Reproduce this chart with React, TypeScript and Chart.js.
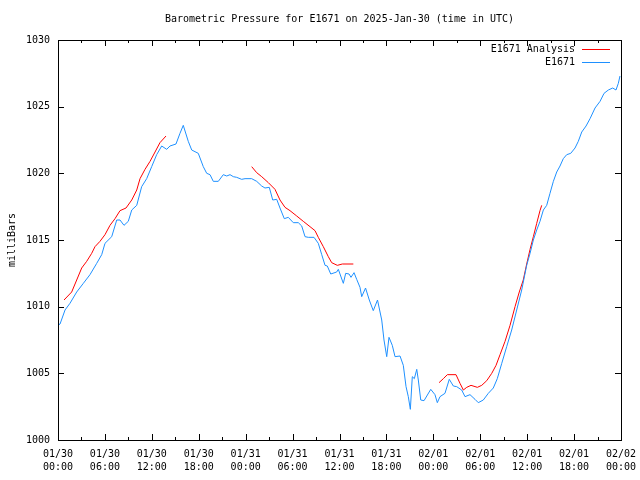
import React, { useEffect, useRef } from "react";
import { Chart, registerables } from "chart.js";

Chart.register(...registerables);

const FONT = "'DejaVu Sans Mono', 'Liberation Mono', monospace";

const TITLE = "Barometric Pressure for E1671 on 2025-Jan-30 (time in UTC)";
const Y_LABEL = "milliBars";
const SERIES_NAMES = ["E1671 Analysis", "E1671"];

const X_TICK_DATES = ["01/30", "01/30", "01/30", "01/30", "01/31", "01/31", "01/31", "01/31", "02/01", "02/01", "02/01", "02/01", "02/02"];
const X_TICK_TIMES = ["00:00", "06:00", "12:00", "18:00", "00:00", "06:00", "12:00", "18:00", "00:00", "06:00", "12:00", "18:00", "00:00"];

// hours since 01/30 00:00 UTC
const STATION_HOURS = [
  0.0, 0.26, 0.9, 1.53, 2.39, 3.24, 4.09, 4.95, 5.59, 6.01, 6.87, 7.51, 7.93, 8.44, 8.99, 9.43, 10.07, 10.7, 11.34, 11.98,
  12.62, 13.26, 13.9, 14.32, 15.09, 15.6, 16.02, 16.66, 17.1, 17.94, 18.58, 19.02, 19.44, 19.86, 20.5, 21.14, 21.58, 22.0,
  22.42, 22.85, 23.49, 23.92, 24.77, 25.41, 26.05, 26.47, 27.02, 27.46, 27.97, 28.39, 28.94, 29.45, 30.09, 30.73, 31.17,
  31.59, 32.01, 32.74, 33.29, 33.73, 34.15, 34.44, 34.88, 35.64, 35.85, 36.49, 36.79, 37.22, 37.47, 37.86, 38.2, 38.62,
  38.84, 39.33, 39.81, 40.32, 40.86, 41.4, 41.69, 42.04, 42.33, 42.75, 43.1, 43.74, 44.16, 44.51, 44.8, 45.06, 45.31,
  45.57, 45.88, 46.08, 46.39, 46.81, 47.67, 48.21, 48.51, 48.85, 49.49, 50.04, 50.56, 50.99, 51.63, 52.05, 52.69, 53.33,
  53.75, 54.39, 55.03, 55.67, 56.18, 56.75, 57.38, 58.02, 58.66, 59.3, 59.94, 60.37, 60.79, 61.22, 61.64, 62.07, 62.5,
  62.92, 63.35, 63.78, 64.2, 64.62, 65.06, 65.57, 66.12, 66.54, 66.98, 67.53, 68.04, 68.68, 69.32, 69.83, 70.38, 70.94,
  71.36, 71.66, 71.87,
];
const STATION_PRESSURE = [
  1008.6, 1008.7, 1009.75, 1010.25, 1011.1, 1011.75, 1012.4, 1013.25, 1013.9, 1014.75, 1015.25, 1016.5, 1016.5, 1016.1,
  1016.4, 1017.25, 1017.6, 1019.0, 1019.6, 1020.5, 1021.4, 1022.05, 1021.8, 1022.05, 1022.2, 1023.0, 1023.6, 1022.4,
  1021.75, 1021.5, 1020.5, 1020.0, 1019.9, 1019.4, 1019.4, 1019.9, 1019.8, 1019.9, 1019.75, 1019.7, 1019.55, 1019.6,
  1019.6, 1019.4, 1019.05, 1018.9, 1018.95, 1018.0, 1018.05, 1017.4, 1016.6, 1016.7, 1016.3, 1016.3, 1016.05, 1015.25,
  1015.2, 1015.2, 1014.75, 1013.9, 1013.1, 1013.05, 1012.45, 1012.6, 1012.8, 1011.75, 1012.5, 1012.45, 1012.2, 1012.55,
  1012.05, 1011.45, 1010.75, 1011.4, 1010.5, 1009.7, 1010.5, 1009.0, 1007.5, 1006.25, 1007.7, 1007.1, 1006.25, 1006.3,
  1005.6, 1004.0, 1003.25, 1002.3, 1004.75, 1004.6, 1005.3, 1004.5, 1003.0, 1002.95, 1003.8, 1003.4, 1002.8, 1003.25,
  1003.5, 1004.55, 1004.05, 1004.0, 1003.75, 1003.25, 1003.4, 1003.05, 1002.8, 1003.0, 1003.5, 1003.9, 1004.6, 1005.75,
  1007.0, 1008.25, 1009.75, 1011.25, 1013.1, 1014.0, 1015.0, 1015.75, 1016.4, 1017.25, 1017.6, 1018.5, 1019.4, 1020.1,
  1020.55, 1021.1, 1021.4, 1021.5, 1021.9, 1022.4, 1023.1, 1023.55, 1024.1, 1024.9, 1025.4, 1026.0, 1026.25, 1026.4,
  1026.25, 1026.75, 1027.3,
];

// analysis segments separated by null gaps
const ANALYSIS_HOURS = [
  0.77, 1.75, 2.39, 3.03, 3.67, 4.31, 4.73, 5.37, 6.01, 6.65, 7.29, 7.93, 8.7, 9.43, 10.07, 10.49, 11.13, 11.77, 12.41,
  13.04, 13.81,
  19.0,
  24.77, 25.41, 26.05, 26.9, 27.75, 28.39, 29.03, 29.67, 30.53, 31.37, 32.23, 32.87, 33.29, 33.93, 34.57, 35.0, 35.72,
  36.36, 37.77,
  43.0,
  48.73, 49.28, 49.79, 50.9, 51.41, 51.84, 52.27, 52.82, 53.63, 54.19, 54.83, 55.47, 56.02, 56.53, 57.17, 57.81, 58.45,
  58.99, 59.5, 59.94, 60.37, 60.79, 61.22, 61.64, 61.86,
];
const ANALYSIS_PRESSURE: (number | null)[] = [
  1010.5, 1011.1, 1012.0, 1012.9, 1013.4, 1014.0, 1014.5, 1014.9, 1015.4, 1016.1, 1016.6, 1017.2, 1017.4, 1018.0, 1018.75,
  1019.6, 1020.3, 1020.9, 1021.6, 1022.3, 1022.8,
  null,
  1020.5, 1020.05, 1019.75, 1019.3, 1018.8, 1018.0, 1017.45, 1017.2, 1016.8, 1016.4, 1016.0, 1015.7, 1015.2, 1014.5,
  1013.75, 1013.3, 1013.1, 1013.2, 1013.2,
  null,
  1004.3, 1004.6, 1004.9, 1004.9, 1004.25, 1003.75, 1003.95, 1004.1, 1003.95, 1004.1, 1004.45, 1005.0, 1005.6, 1006.4,
  1007.4, 1008.6, 1010.0, 1011.1, 1012.0, 1013.2, 1014.3, 1015.25, 1016.25, 1017.2, 1017.6,
];

const RED = "#ff0000";
const BLUE = "#1e90ff";

const framePlugin = {
  id: "gnuframe",
  afterDraw(chart: any) {
    const { ctx, chartArea } = chart;
    const { left, right, top, bottom } = chartArea;
    const xs = chart.scales.x;
    const ys = chart.scales.y;
    ctx.save();
    ctx.strokeStyle = "#000";
    ctx.lineWidth = 1;
    ctx.beginPath();
    // x ticks (every 3h, major every 6h)
    for (let h = 0; h <= 72; h += 3) {
      const px = Math.round(xs.getPixelForValue(h)) + 0.5;
      const len = h % 6 === 0 ? 6 : 3;
      ctx.moveTo(px, bottom);
      ctx.lineTo(px, bottom - len);
      ctx.moveTo(px, top);
      ctx.lineTo(px, top + len);
    }
    for (let v = 1000; v <= 1030; v += 5) {
      const py = Math.round(ys.getPixelForValue(v)) + 0.5;
      ctx.moveTo(left, py);
      ctx.lineTo(left + 6, py);
      ctx.moveTo(right, py);
      ctx.lineTo(right - 6, py);
    }
    ctx.stroke();
    ctx.strokeRect(Math.round(left) + 0.5, Math.round(top) + 0.5, Math.round(right - left), Math.round(bottom - top));

    ctx.fillStyle = "#000";
    ctx.font = `10px ${FONT}`;
    ctx.textBaseline = "middle";
    ctx.textAlign = "center";
    ctx.fillText(TITLE, (left + right) / 2, 19);

    ctx.save();
    ctx.translate(12, (top + bottom) / 2);
    ctx.rotate(-Math.PI / 2);
    ctx.fillText(Y_LABEL, 0, 0);
    ctx.restore();

    // legend
    const rows = [
      { name: SERIES_NAMES[0], color: RED, y: 49.5 },
      { name: SERIES_NAMES[1], color: BLUE, y: 62.5 },
    ];
    ctx.textAlign = "right";
    for (const r of rows) {
      ctx.fillStyle = "#000";
      ctx.fillText(r.name, 575, r.y);
      ctx.strokeStyle = r.color;
      ctx.beginPath();
      ctx.moveTo(582, Math.floor(r.y) + 0.5);
      ctx.lineTo(610, Math.floor(r.y) + 0.5);
      ctx.stroke();
    }
    ctx.restore();
  },
};

export default function App() {
  const ref = useRef<HTMLCanvasElement>(null);
  useEffect(() => {
    document.body.style.margin = "0";
    const canvas = ref.current;
    if (!canvas) return;
    const chart = new Chart(canvas, {
      type: "line",
      data: {
        datasets: [
          {
            label: SERIES_NAMES[1],
            data: STATION_HOURS.map((h, i) => ({ x: h, y: STATION_PRESSURE[i] })),
            borderColor: BLUE,
            borderWidth: 1,
            pointRadius: 0,
            tension: 0,
            fill: false,
            order: 0,
          },
          {
            label: SERIES_NAMES[0],
            data: ANALYSIS_HOURS.map((h, i) => ({ x: h, y: ANALYSIS_PRESSURE[i] })),
            borderColor: RED,
            borderWidth: 1,
            pointRadius: 0,
            tension: 0,
            fill: false,
            spanGaps: false,
            order: 1,
          },
        ],
      },
      options: {
        responsive: false,
        animation: false,
        events: [],
        layout: { padding: { top: 40, right: 19, left: 0, bottom: 0 } },
        plugins: {
          legend: { display: false },
          title: { display: false },
          tooltip: { enabled: false },
        },
        scales: {
          x: {
            type: "linear",
            min: 0,
            max: 72,
            grid: { display: false, drawTicks: false },
            border: { display: false },
            ticks: {
              stepSize: 6,
              autoSkip: false,
              maxRotation: 0,
              minRotation: 0,
              padding: 8,
              color: "#000",
              font: { family: FONT, size: 10, lineHeight: 1.3 },
              callback: (v: any) => {
                const idx = Math.round(Number(v) / 6);
                return [X_TICK_DATES[idx], X_TICK_TIMES[idx]];
              },
            },
            afterFit: (s: any) => {
              s.height = 40;
              s.paddingLeft = 0;
              s.paddingRight = 0;
            },
          },
          y: {
            type: "linear",
            min: 1000,
            max: 1030,
            grid: { display: false, drawTicks: false },
            border: { display: false },
            ticks: {
              stepSize: 5,
              padding: 8,
              color: "#000",
              font: { family: FONT, size: 10 },
              callback: (v: any) => String(Math.round(Number(v))),
            },
            afterFit: (s: any) => {
              s.width = 58;
              s.paddingTop = 0;
              s.paddingBottom = 0;
            },
          },
        },
      },
      plugins: [framePlugin],
    } as any);
    return () => chart.destroy();
  }, []);
  return <canvas ref={ref} width={640} height={480} style={{ display: "block" }} />;
}
